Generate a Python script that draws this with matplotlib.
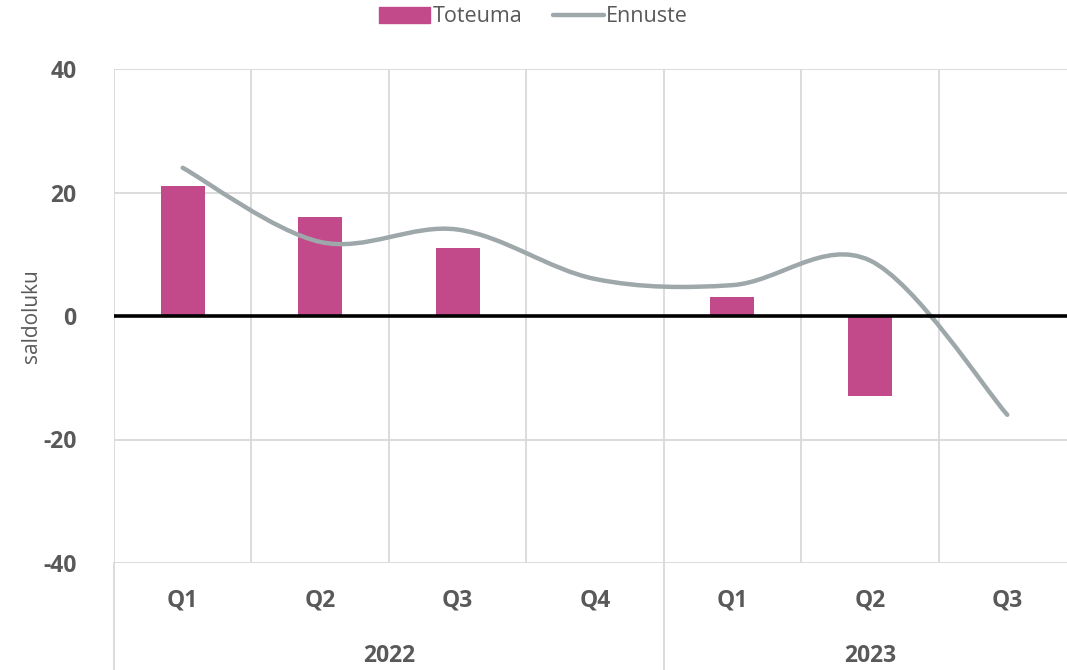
import numpy as np
import matplotlib
matplotlib.use("Agg")
import matplotlib.pyplot as plt
from matplotlib.path import Path
from matplotlib.patches import PathPatch
from matplotlib.lines import Line2D
from matplotlib.patches import Patch
import matplotlib.transforms as mtransforms

# data
quarters = ["Q1", "Q2", "Q3", "Q4", "Q1", "Q2", "Q3"]
years = ["2022", "2023"]
year_counts = [4, 3]
toteuma = [21, 16, 11, np.nan, 3, -13, np.nan]
ennuste = [24, 12, 14, 6, 5, 9, -16]

plt.rcParams['font.family'] = ['Open Sans', 'DejaVu Sans']
grey_txt = "#595959"
bar_col = "#C2498A"
line_col = "#9EA7AA"
grid_col = "#D9D9D9"

fig = plt.figure(figsize=(10.67, 6.7), dpi=100)
ax = fig.add_axes([114/1067, 1-563/670, (1076-114)/1067, (563-69)/670])

x = np.arange(len(quarters))
ax.bar(x, toteuma, width=0.32, color=bar_col, zorder=2)

# smoothed line, Excel-style Bezier through the points
pts = np.column_stack([x, ennuste]).astype(float)
verts = [pts[0]]
codes = [Path.MOVETO]
n = len(pts)
for i in range(n-1):
    p0 = pts[i-1] if i > 0 else pts[i]
    p1 = pts[i]
    p2 = pts[i+1]
    p3 = pts[i+2] if i+2 < n else pts[i+1]
    c1 = p1 + (p2 - p0) / 6
    c2 = p2 - (p3 - p1) / 6
    verts += [c1, c2, p2]
    codes += [Path.CURVE4]*3
ax.add_patch(PathPatch(Path(verts, codes), fill=False, edgecolor=line_col,
                       lw=3.2, capstyle='round', zorder=3))

ax.set_xlim(-0.5, len(quarters)-0.5)
ax.set_ylim(-40, 40)
ax.set_yticks([-40, -20, 0, 20, 40])
ax.set_yticklabels(["-40", "-20", "0", "20", "40"], fontsize=16.5,
                   fontweight='bold', color=grey_txt)
ax.tick_params(axis='y', length=0, pad=27)
ax.set_xticks([])
for s in ax.spines.values():
    s.set_visible(False)

# gridlines
for yv in [-40, -20, 20, 40]:
    ax.axhline(yv, color=grid_col, lw=1.3, zorder=0)
ax.axhline(0, color="black", lw=2.6, zorder=4)
for xv in np.arange(-0.5, len(quarters)-0.5, 1.0):
    ax.axvline(xv, color=grid_col, lw=1.3, zorder=0)

# category axis below
trans = mtransforms.blended_transform_factory(ax.transData, ax.transAxes)
ax_h = (563-69)
for i, q in enumerate(quarters):
    ax.text(i, -38/ax_h, q, transform=trans, ha='center', va='center',
            fontsize=16.5, fontweight='bold', color=grey_txt)
start = 0
bottom = -110/ax_h
ax.plot([-0.5, -0.5], [0, bottom], transform=trans, color=grid_col, lw=1.3, clip_on=False)
for yr, c in zip(years, year_counts):
    mid = start + (c-1)/2
    ax.text(mid, -93/ax_h, yr, transform=trans, ha='center', va='center',
            fontsize=16.5, fontweight='bold', color=grey_txt)
    start += c
    if start < len(quarters):
        ax.plot([start-0.5, start-0.5], [0, bottom], transform=trans,
                color=grid_col, lw=1.3, clip_on=False)

ax.set_ylabel("saldoluku", fontsize=15, color=grey_txt)
ax.yaxis.set_label_coords(-72/(1076-114), 0.5)

handles = [Patch(color=bar_col), Line2D([0], [0], color=line_col, lw=3.2, solid_capstyle='round')]
fig.legend(handles, ["Toteuma", "Ennuste"], loc='center', bbox_to_anchor=(0.5, 1-17/670),
           ncol=2, frameon=False, fontsize=15.5, labelcolor=grey_txt,
           handlelength=2.4, handletextpad=0.1, columnspacing=1.4)

fig.savefig("out.png", dpi=100)
